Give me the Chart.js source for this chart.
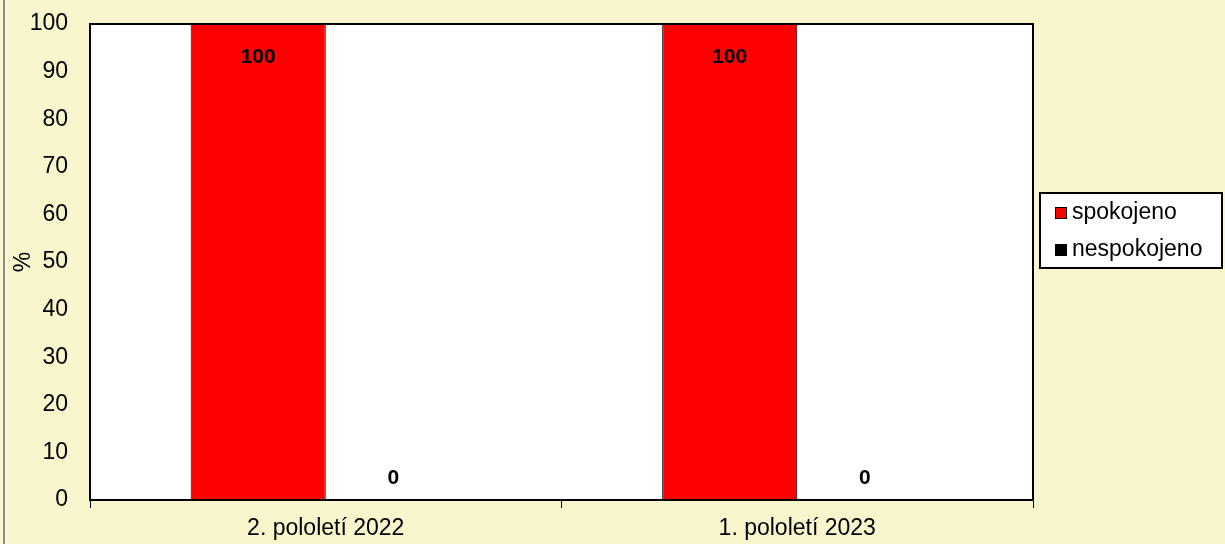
<!DOCTYPE html>
<html>
<head>
<meta charset="utf-8">
<script src="https://cdn.jsdelivr.net/npm/chart.js@4"></script>
<style>
  html, body { margin: 0; padding: 0; background: #F9F5CD; }
  #wrap { width: 1225px; height: 544px; position: relative; }
</style>
</head>
<body>
<div id="wrap"><canvas id="chart" width="1225" height="544"></canvas></div>
<script>
// Chart data
const categories = ['2. pololetí 2022', '1. pololetí 2023'];
const spokojeno = [100, 100];
const nespokojeno = [0, 0];
const seriesNames = ['spokojeno', 'nespokojeno'];
const yTicks = [0, 10, 20, 30, 40, 50, 60, 70, 80, 90, 100];

const FONT = 'Liberation Sans, Arial, sans-serif';

// White plot area with black frame, plus the thin grey frame line on the left
const plotFrame = {
    id: 'plotFrame',
    beforeDraw(chart) {
        const { ctx, chartArea: a } = chart;
        ctx.save();
        ctx.fillStyle = '#FFFFFF';
        ctx.fillRect(a.left, a.top, a.right - a.left, a.bottom - a.top);
        ctx.strokeStyle = '#8C8C8C';
        ctx.lineWidth = 2;
        ctx.beginPath();
        ctx.moveTo(4, 0);
        ctx.lineTo(4, chart.height);
        ctx.stroke();
        ctx.restore();
    },
    afterDatasetsDraw(chart) {
        const { ctx, chartArea: a } = chart;
        ctx.save();
        ctx.strokeStyle = '#000000';
        ctx.lineWidth = 2;
        ctx.strokeRect(a.left, a.top, a.right - a.left, a.bottom - a.top);
        ctx.restore();
    }
};

// Value labels: inside top of tall bars, just above the axis for zeros
const valueLabels = {
    id: 'valueLabels',
    afterDatasetsDraw(chart) {
        const { ctx } = chart;
        ctx.save();
        ctx.font = 'bold 21px ' + FONT;
        ctx.fillStyle = '#000000';
        ctx.textAlign = 'center';
        ctx.textBaseline = 'middle';
        chart.data.datasets.forEach((ds, i) => {
            chart.getDatasetMeta(i).data.forEach((bar, j) => {
                const v = ds.data[j];
                const y = v > 0 ? bar.y + 33 : bar.y - 22;
                ctx.fillText(String(v), bar.x, y);
            });
        });
        ctx.restore();
    }
};

// Boxed legend on the right
const boxLegend = {
    id: 'boxLegend',
    afterDraw(chart) {
        const { ctx } = chart;
        const x = 1040, y = 193, w = 182, h = 75;
        ctx.save();
        ctx.fillStyle = '#FFFFFF';
        ctx.fillRect(x, y, w, h);
        ctx.strokeStyle = '#000000';
        ctx.lineWidth = 2;
        ctx.strokeRect(x, y, w, h);
        ctx.font = '23px ' + FONT;
        ctx.textBaseline = 'middle';
        ctx.textAlign = 'left';
        chart.data.datasets.forEach((ds, i) => {
            const cy = y + 20 + i * 37;
            ctx.fillStyle = ds.backgroundColor;
            ctx.fillRect(1055, cy - 6, 12, 12);
            ctx.strokeStyle = '#000000';
            ctx.lineWidth = 1;
            ctx.strokeRect(1055.5, cy - 5.5, 11, 11);
            ctx.fillStyle = '#000000';
            ctx.fillText(ds.label, 1072, cy);
        });
        ctx.restore();
    }
};

const ctx = document.getElementById('chart').getContext('2d');
new Chart(ctx, {
    type: 'bar',
    data: {
        labels: categories,
        datasets: [
            {
                label: seriesNames[0],
                data: spokojeno,
                backgroundColor: '#FF0000',
                borderColor: '#000000',
                borderWidth: 1
            },
            {
                label: seriesNames[1],
                data: nespokojeno,
                backgroundColor: '#000000',
                borderColor: '#000000',
                borderWidth: 1
            }
        ]
    },
    options: {
        responsive: false,
        animation: false,
        layout: { padding: { top: 24, right: 192, left: 0, bottom: 0 } },
        datasets: {
            bar: { barPercentage: 1.0, categoryPercentage: 0.573 }
        },
        plugins: {
            legend: { display: false },
            tooltip: { enabled: false }
        },
        scales: {
            x: {
                afterFit(scale) { scale.height = 44; },
                grid: {
                    offset: true,
                    drawOnChartArea: false,
                    drawTicks: true,
                    tickLength: 8,
                    color: '#000000',
                    lineWidth: 1
                },
                border: { display: false },
                ticks: {
                    color: '#000000',
                    font: { family: FONT, size: 23 },
                    padding: 7
                }
            },
            y: {
                min: 0,
                max: 100,
                afterFit(scale) {
                    scale.width = 90;
                    scale.paddingTop = 0;
                    scale.paddingBottom = 0;
                },
                afterBuildTicks(scale) {
                    scale.ticks = yTicks.map(v => ({ value: v }));
                },
                grid: { display: false, drawTicks: false },
                border: { display: false },
                ticks: {
                    color: '#000000',
                    font: { family: FONT, size: 23 },
                    padding: 22
                },
                title: {
                    display: true,
                    text: '%',
                    color: '#000000',
                    font: { family: FONT, size: 23 },
                    padding: { top: 10, bottom: 0 }
                }
            }
        }
    },
    plugins: [plotFrame, valueLabels, boxLegend]
});
</script>
</body>
</html>
